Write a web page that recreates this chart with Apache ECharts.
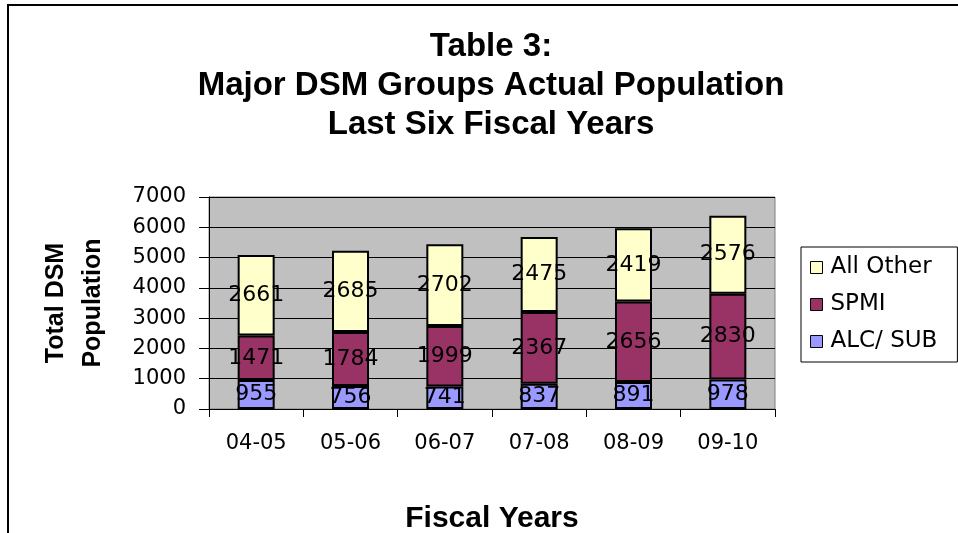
<!DOCTYPE html>
<html>
<head>
<meta charset="utf-8">
<script src="https://cdn.jsdelivr.net/npm/echarts@6/dist/echarts.min.js"></script>
<style>
  html, body { margin: 0; padding: 0; background: #fff; }
  #chart { width: 958px; height: 533px; }
</style>
</head>
<body>
<div id="chart"></div>
<script>
const years = ['04-05', '05-06', '06-07', '07-08', '08-09', '09-10'];
const alcSub = [955, 756, 741, 837, 891, 978];
const spmi = [1471, 1784, 1999, 2367, 2656, 2830];
const allOther = [2661, 2685, 2702, 2475, 2419, 2576];

let myChart = echarts.init(document.getElementById('chart'));

let labelStyle = {
    show: true,
    position: 'inside',
    color: '#000',
    fontFamily: 'DejaVu Sans',
    fontSize: 22
};

function barSeries(name, data, color) {
    return {
        name: name,
        type: 'bar',
        stack: 'total',
        barWidth: 37,
        data: data,
        itemStyle: {
            color: color,
            borderColor: '#000',
            borderWidth: 2
        },
        label: labelStyle
    };
}

let option = {
    backgroundColor: '#fff',
    animation: false,
    title: {
        text: 'Table 3:\nMajor DSM Groups Actual Population\nLast Six Fiscal Years',
        left: 491,
        top: 27,
        textAlign: 'center',
        padding: 0,
        textStyle: {
            fontFamily: 'Liberation Sans',
            fontWeight: 'bold',
            fontSize: 33,
            lineHeight: 39,
            color: '#000'
        }
    },
    graphic: [{
        type: 'rect',
        shape: {x: 8, y: 5, width: 1000, height: 600},
        style: {fill: 'none', stroke: '#000', lineWidth: 2},
        silent: true
    }],
    legend: {
        orient: 'vertical',
        left: 801,
        top: 247,
        padding: [8, 20, 8, 9],
        backgroundColor: '#fff',
        borderColor: '#000',
        borderWidth: 1,
        borderRadius: 0,
        itemWidth: 12,
        itemHeight: 12,
        itemGap: 12,
        icon: 'rect',
        data: ['All Other', 'SPMI', 'ALC/ SUB'],
        itemStyle: {borderColor: '#000', borderWidth: 1},
        textStyle: {
            fontFamily: 'DejaVu Sans',
            fontSize: 23,
            lineHeight: 25,
            color: '#000',
            padding: [0, 0, 0, 3]
        }
    },
    grid: {
        left: 209,
        right: 183,
        top: 197,
        bottom: 124,
        outerBoundsMode: 'none',
        show: true,
        backgroundColor: '#c0c0c0',
        borderColor: '#808080',
        borderWidth: 1
    },
    xAxis: {
        type: 'category',
        data: years,
        name: 'Fiscal Years',
        nameLocation: 'middle',
        nameGap: 95,
        nameTextStyle: {
            fontFamily: 'Liberation Sans',
            fontWeight: 'bold',
            fontSize: 30,
            color: '#000'
        },
        axisLine: {lineStyle: {color: '#000', width: 1}},
        axisTick: {show: true, length: 8, lineStyle: {color: '#000'}},
        axisLabel: {
            margin: 24,
            fontFamily: 'DejaVu Sans',
            fontSize: 21,
            color: '#000'
        }
    },
    yAxis: {
        type: 'value',
        min: 0,
        max: 7000,
        interval: 1000,
        name: 'Total DSM\nPopulation',
        nameLocation: 'middle',
        nameRotate: 90,
        nameGap: 97,
        nameTextStyle: {
            fontFamily: 'Liberation Sans',
            fontWeight: 'bold',
            fontSize: 25,
            lineHeight: 37,
            color: '#000'
        },
        axisLine: {show: true, lineStyle: {color: '#000', width: 1}},
        axisTick: {show: true, length: 10, lineStyle: {color: '#000'}},
        axisLabel: {
            margin: 23,
            fontFamily: 'DejaVu Sans',
            fontSize: 21,
            color: '#000',
            formatter: function (v) {
                return String(v);
            }
        },
        splitLine: {show: true, lineStyle: {color: '#000', width: 1}}
    },
    series: [
        barSeries('ALC/ SUB', alcSub, '#9999ff'),
        barSeries('SPMI', spmi, '#993366'),
        barSeries('All Other', allOther, '#ffffcc')
    ]
};
myChart.setOption(option);
</script>
</body>
</html>
